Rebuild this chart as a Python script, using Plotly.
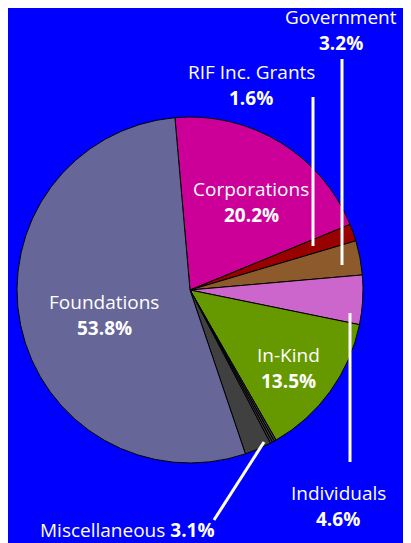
import plotly.graph_objects as go

W, H = 411, 543
OFF = 8  # page body margin in the browser

# slices, clockwise from top
slice_labels = ["Corporations", "RIF Inc. Grants", "Government", "Individuals", "In-Kind",
                "Misc a", "Misc b", "Misc c", "Misc d", "Foundations"]
slice_values = [20.2, 1.6, 3.2, 4.6, 13.5, 0.2, 0.2, 0.2, 2.5, 53.8]
slice_colors = ["#CC0099", "#990000", "#8C5A2B", "#CC66CC", "#669900",
                "#404040", "#404040", "#404040", "#404040", "#666699"]

# category labels shown on the chart
cat_names = ["Government", "RIF Inc. Grants", "Corporations", "Foundations", "In-Kind", "Individuals"]
cat_pcts = ["3.2%", "1.6%", "20.2%", "53.8%", "13.5%", "4.6%"]
misc_name = "Miscellaneous"
misc_pct = "3.1%"

FONT = "Open Sans"
FS = 19

def px(x): return (x - OFF) / W
def py(y): return 1 - (y - OFF) / H

cx, cy, r = 190, 290, 173
fig = go.Figure(go.Pie(
    labels=slice_labels, values=slice_values, sort=False, direction="clockwise",
    rotation=-5,
    marker=dict(colors=slice_colors, line=dict(color="black", width=1)),
    textinfo="none", hoverinfo="label+percent", showlegend=False,
    domain=dict(x=[px(cx - r), px(cx + r)], y=[py(cy + r), py(cy - r)]),
))

# label positions (reference pixel centres) — layout only
pos = {
    "Government": (341, 17),
    "RIF Inc. Grants": (251, 72),
    "Corporations": (251, 189),
    "Foundations": (104, 302),
    "In-Kind": (288, 355),
    "Individuals": (338, 493),
}
annos = []
for name, pct in zip(cat_names, cat_pcts):
    x, y = pos[name]
    annos.append(dict(x=px(x), y=py(y), xref="paper", yref="paper", showarrow=False,
                      text=name, font=dict(family=FONT, size=FS, color="white"),
                      xanchor="center", yanchor="middle"))
    annos.append(dict(x=px(x), y=py(y + 26), xref="paper", yref="paper", showarrow=False,
                      text="<b>" + pct + "</b>", font=dict(family=FONT, size=FS, color="white"),
                      xanchor="center", yanchor="middle"))
annos.append(dict(x=px(128), y=py(530), xref="paper", yref="paper", showarrow=False,
                  text=misc_name + " <b>" + misc_pct + "</b>",
                  font=dict(family=FONT, size=FS, color="white"),
                  xanchor="center", yanchor="middle"))

lines = [((313, 97), (313, 246)), ((342, 59), (342, 265)),
         ((350, 313), (350, 462)), ((264, 442), (214, 520))]
shapes = [dict(type="line", xref="paper", yref="paper", x0=px(a[0]), y0=py(a[1]),
               x1=px(b[0]), y1=py(b[1]), line=dict(color="white", width=3)) for a, b in lines]

fig.update_layout(width=W, height=H, margin=dict(l=0, r=0, t=0, b=0),
                  paper_bgcolor="#0000FF", plot_bgcolor="#0000FF",
                  annotations=annos, shapes=shapes)
fig.write_html("out.html")
